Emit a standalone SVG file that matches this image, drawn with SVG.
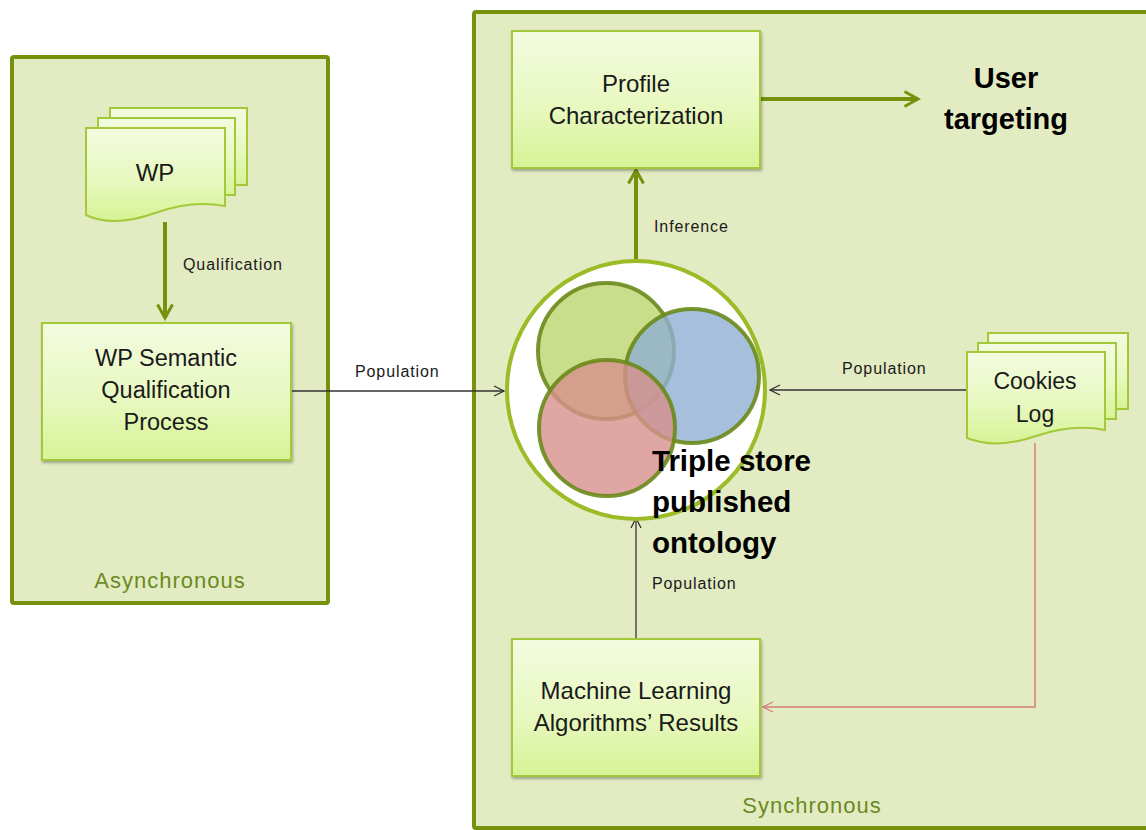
<svg xmlns="http://www.w3.org/2000/svg" width="1146" height="830" viewBox="0 0 1146 830">
<defs>
<linearGradient id="boxg" x1="0" y1="0" x2="0" y2="1">
<stop offset="0" stop-color="#F3FBE0"/>
<stop offset="0.55" stop-color="#E8F8C0"/>
<stop offset="1" stop-color="#D6F395"/>
</linearGradient>
<filter id="sh" x="-10%" y="-10%" width="125%" height="125%">
<feDropShadow dx="1" dy="2" stdDeviation="1.5" flood-color="#000" flood-opacity="0.3"/>
</filter>
<marker id="ahGL" viewBox="0 0 12 12" refX="10" refY="6" markerWidth="18" markerHeight="18" markerUnits="userSpaceOnUse" orient="auto">
<path d="M1,1 L10,6 L1,11" fill="none" stroke="#76920C" stroke-width="2"/>
</marker>
<marker id="ahK" viewBox="0 0 12 12" refX="11" refY="6" markerWidth="12" markerHeight="12" markerUnits="userSpaceOnUse" orient="auto">
<path d="M1,1 L11,6 L1,11" fill="none" stroke="#333" stroke-width="1.3"/>
</marker>
<marker id="ahR" viewBox="0 0 12 12" refX="11" refY="6" markerWidth="12" markerHeight="12" markerUnits="userSpaceOnUse" orient="auto">
<path d="M1,1 L11,6 L1,11" fill="none" stroke="#D0807C" stroke-width="1.3"/>
</marker>
</defs>
<style>
.cont{fill:#E3EBC2;stroke:#76920C;stroke-width:4}
.box{fill:url(#boxg);stroke:#A3C93A;stroke-width:2;filter:url(#sh)}
.doc{fill:url(#boxg);stroke:#A3C93A;stroke-width:2}
.t{font-family:"Liberation Sans",Arial,sans-serif;fill:#1a1a1a;text-anchor:middle}
.lbl{font-family:"Liberation Sans",Arial,sans-serif;fill:#1a1a1a;font-size:16px;letter-spacing:0.9px}
.big{font-family:"Liberation Sans",Arial,sans-serif;fill:#000;font-weight:bold}
.zone{font-family:"Liberation Sans",Arial,sans-serif;fill:#6B8A22;font-size:22px;letter-spacing:1px;text-anchor:middle}
.thick{stroke:#76920C;stroke-width:4;fill:none}
.thin{stroke:#333;stroke-width:1.3;fill:none}
</style>
<rect width="1146" height="830" fill="#fff"/>
<g id="async">
<rect class="cont" x="12" y="57" width="316" height="546" rx="2"/>
<text class="zone" x="170" y="588">Asynchronous</text>
</g>
<g id="sync">
<rect class="cont" x="474" y="12" width="680" height="816" rx="2"/>
<text class="zone" x="812" y="813">Synchronous</text>
</g>
<g id="connectors">
<line class="thick" x1="165" y1="222" x2="165" y2="318" marker-end="url(#ahGL)"/>
<line class="thin" x1="291" y1="391" x2="504" y2="391" marker-end="url(#ahK)"/>
<line class="thick" x1="636" y1="262" x2="636" y2="170" marker-end="url(#ahGL)"/>
<line class="thick" x1="760" y1="99" x2="918" y2="99" marker-end="url(#ahGL)"/>
<line class="thin" x1="967" y1="390" x2="770" y2="390" marker-end="url(#ahK)"/>
<line class="thin" x1="636" y1="639" x2="636" y2="518" marker-end="url(#ahK)"/>
<polyline points="1035,443 1035,707 763,707" fill="none" stroke="#D0807C" stroke-width="1.5" marker-end="url(#ahR)"/>
<text class="lbl" x="183" y="270">Qualification</text>
<text class="lbl" x="355" y="377">Population</text>
<text class="lbl" x="654" y="232">Inference</text>
<text class="lbl" x="842" y="374">Population</text>
<text class="lbl" x="652" y="589">Population</text>
</g>
<g id="wp">
<rect class="doc" x="110" y="108" width="137" height="77"/>
<rect class="doc" x="98" y="118" width="137" height="77"/>
<path class="doc" d="M86,128 H225 V206 C205,202 180,204 155,213 C130,222 105,224 86,215 Z"/>
<text class="t" x="155" y="181" font-size="24">WP</text>
</g>
<g id="wpsqp">
<rect class="box" x="42" y="323" width="249" height="137"/>
<text class="t" x="166" y="366" font-size="23.5">WP Semantic</text>
<text class="t" x="166" y="398" font-size="23.5">Qualification</text>
<text class="t" x="166" y="430" font-size="23.5">Process</text>
</g>
<g id="profile">
<rect class="box" x="512" y="31" width="248" height="137"/>
<text class="t" x="636" y="92" font-size="24">Profile</text>
<text class="t" x="636" y="124" font-size="24">Characterization</text>
</g>
<g id="usertargeting">
<text class="big" x="1006" y="88" font-size="29" text-anchor="middle">User</text>
<text class="big" x="1006" y="129" font-size="29" text-anchor="middle">targeting</text>
</g>
<g id="triplestore">
<circle cx="636" cy="390" r="129" fill="#fff" stroke="#9BBB27" stroke-width="4"/>
<g stroke="#6A8A1A" stroke-width="4" stroke-opacity="0.9">
<circle cx="606" cy="351" r="68" fill="#BBD46D" fill-opacity="0.8"/>
<circle cx="692" cy="376" r="67" fill="#90AFD3" fill-opacity="0.8"/>
<circle cx="607" cy="428" r="68" fill="#D7908C" fill-opacity="0.8"/>
</g>
<text class="big" x="652" y="471" font-size="29.5">Triple store</text>
<text class="big" x="652" y="512" font-size="29.5">published</text>
<text class="big" x="652" y="553" font-size="29.5">ontology</text>
</g>
<g id="cookies">
<rect class="doc" x="988" y="333" width="140" height="76"/>
<rect class="doc" x="978" y="343" width="138" height="76"/>
<path class="doc" d="M967,352 H1105 V430 C1085,426 1060,428 1036,436 C1010,445 987,446 967,438 Z"/>
<text class="t" x="1035" y="389" font-size="23">Cookies</text>
<text class="t" x="1035" y="422" font-size="23">Log</text>
</g>
<g id="ml">
<rect class="box" x="512" y="639" width="248" height="137"/>
<text class="t" x="636" y="699" font-size="24">Machine Learning</text>
<text class="t" x="636" y="731" font-size="24">Algorithms’ Results</text>
</g>
</svg>
